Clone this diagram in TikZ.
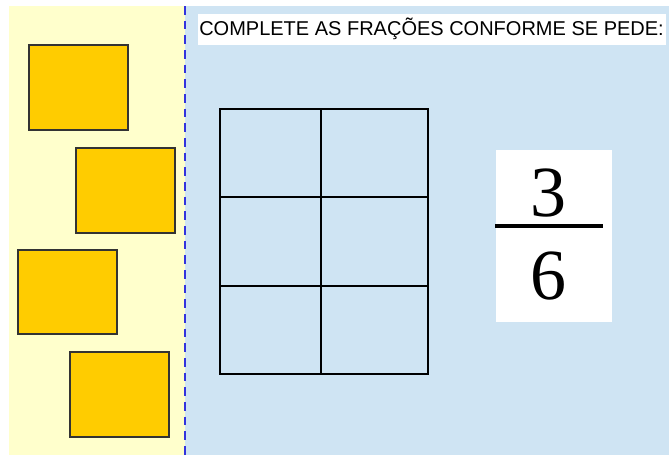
\documentclass[tikz,border=0pt]{standalone}
\usepackage{fontspec}
\setmainfont{Liberation Serif}
\newfontfamily\arialfont{Liberation Sans}
\definecolor{panelyellow}{HTML}{FFFFCC}
\definecolor{panelblue}{HTML}{CFE4F3}
\definecolor{piecegold}{HTML}{FFCC00}
\definecolor{dashblue}{HTML}{3333DD}
\begin{document}
\begin{tikzpicture}[x=0.75pt,y=-0.75pt,
  piece/.style={draw=black!80, fill=piecegold, line width=1.6pt, minimum width=74.25pt, minimum height=63.75pt, inner sep=0pt},
  gridline/.style={draw=black, line width=2.1pt},
  digit/.style={font=\fontsize{54}{54}\selectfont, inner sep=0pt, anchor=base}]
\useasboundingbox (0,0) rectangle (669,455);
\fill[white] (0,0) rectangle (669,455);
\fill[panelyellow] (9,6) rectangle (185,455);
\fill[panelblue] (185,6) rectangle (669,455);
\draw[dashblue, line width=2.2pt, dash pattern=on 6.5pt off 4.5pt] (185,6) -- (185,455);
% title
\fill[white] (198,14) rectangle (666,45);
\node[anchor=west, inner sep=0pt, font=\arialfont\fontsize{15}{18}\selectfont] (title) at (199,29) {COMPLETE AS FRAÇÕES CONFORME SE PEDE:};
% pieces
\node[piece] (p1) at (78.5,87.5) {};
\node[piece] (p2) at (125.5,190.5) {};
\node[piece, minimum height=63pt] (p3) at (67.5,292) {};
\node[piece] (p4) at (119.5,394.5) {};
% grid
\draw[gridline] (220,109) rectangle (428,374);
\draw[gridline] (321,109) -- (321,374);
\draw[gridline] (220,197) -- (428,197);
\draw[gridline] (220,286) -- (428,286);
% fraction
\fill[white] (496,150) rectangle (612,322);
\node[digit] (num) at (548,216) {3};
\node[digit] (den) at (548,299) {6};
\draw[black, line width=3pt] (495,226) -- (603,226);
\end{tikzpicture}
\end{document}
